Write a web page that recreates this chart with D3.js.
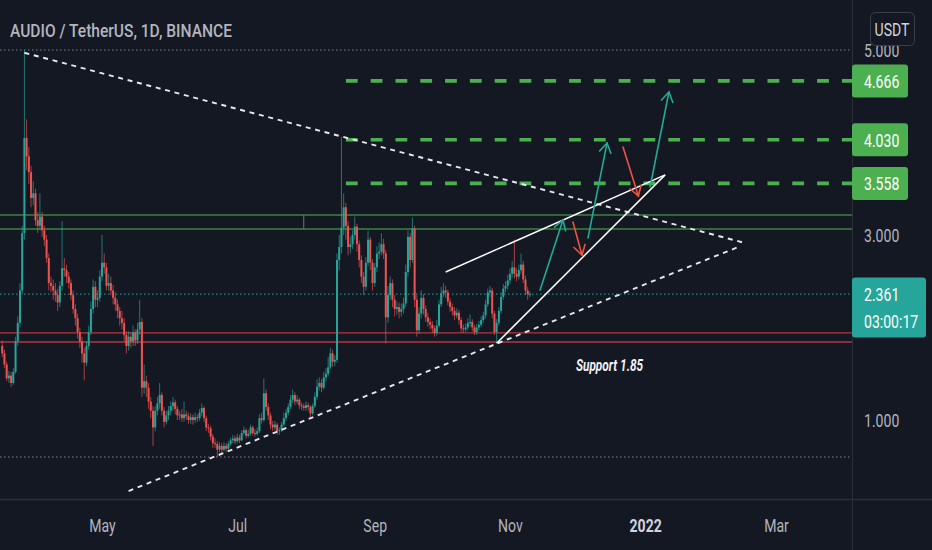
<!DOCTYPE html>
<html>
<head>
<meta charset="utf-8">
<script src="https://cdn.jsdelivr.net/npm/d3@7"></script>
<style>
  html, body { margin: 0; padding: 0; background: #141823; }
  svg { display: block; }
  text { font-family: Roboto, "Noto Sans", sans-serif; }
</style>
</head>
<body>
<div id="app"></div>
<script>
// Daily candles, AUDIO/USDT (open = previous close)
const firstDay = '2021-03-17';
const firstOpen = 1.80;
const closes = [
  1.72, 1.60, 1.45, 1.48, 1.40, 1.52, 1.85, 2.05, 2.40, 3.02,
  4.05, 3.85, 3.68, 3.40, 3.45, 3.16, 3.10, 3.20, 3.05, 2.95,
  2.75, 2.48, 2.45, 2.40, 2.35, 2.27, 2.45, 2.64, 2.62, 2.55,
  2.48, 2.35, 2.20, 2.10, 1.95, 1.85, 1.72, 1.62, 1.80, 1.95,
  2.20, 2.44, 2.30, 2.32, 2.55, 2.70, 2.65, 2.45, 2.48, 2.40,
  2.32, 2.25, 2.18, 2.10, 2.05, 1.92, 1.80, 1.90, 1.85, 1.95,
  1.86, 1.98, 2.06, 1.35, 1.42, 1.35, 1.20, 1.10, 0.92, 1.10,
  1.18, 1.27, 1.10, 0.98, 1.05, 1.10, 1.15, 1.19, 1.12, 1.05,
  1.06, 1.02, 1.06, 1.04, 1.00, 1.03, 1.00, 1.03, 1.02, 1.08,
  1.13, 1.02, 0.92, 0.91, 0.82, 0.75, 0.74, 0.68, 0.72, 0.68,
  0.72, 0.69, 0.74, 0.78, 0.80, 0.77, 0.81, 0.78, 0.86, 0.89,
  0.83, 0.85, 0.92, 0.86, 0.85, 0.88, 1.02, 1.00, 1.29, 1.14,
  1.05, 0.95, 0.92, 0.95, 0.88, 0.89, 0.95, 1.02, 1.08, 1.14,
  1.22, 1.27, 1.20, 1.22, 1.16, 1.15, 1.13, 1.16, 1.14, 1.07,
  1.15, 1.25, 1.36, 1.40, 1.35, 1.46, 1.50, 1.57, 1.72, 1.63,
  1.65, 2.73, 2.87, 3.08, 3.30, 3.10, 2.87, 2.90, 3.00, 3.09,
  2.90, 2.73, 2.55, 2.44, 2.70, 2.95, 2.70, 2.48, 2.65, 2.80,
  2.82, 2.90, 2.80, 2.11, 2.35, 2.48, 2.30, 2.20, 2.22, 2.17,
  2.20, 2.26, 2.60, 2.98, 2.73, 3.07, 2.30, 1.97, 2.15, 2.32,
  2.20, 2.11, 2.06, 2.03, 1.99, 1.94, 2.02, 2.25, 2.37, 2.40,
  2.38, 2.28, 2.22, 2.18, 2.13, 2.16, 2.08, 1.99, 1.98, 2.00,
  2.05, 2.06, 2.00, 1.95, 2.00, 2.03, 2.08, 2.13, 2.25, 2.38,
  2.40, 2.15, 1.95, 2.05, 2.18, 2.33, 2.42, 2.45, 2.51, 2.58,
  2.65, 2.58, 2.55, 2.62, 2.68, 2.52, 2.40, 2.36, 2.361
];
const highs = [
  1.86, 1.76, 1.63, 1.53, 1.52, 1.56, 1.90, 2.12, 2.48, 3.10,
  5.00, 4.25, 3.95, 3.75, 3.58, 3.50, 3.25, 3.45, 3.25, 3.10,
  3.00, 2.80, 2.55, 2.52, 2.48, 2.42, 2.50, 3.15, 2.75, 2.68,
  2.60, 2.52, 2.40, 2.25, 2.15, 2.00, 1.90, 1.78, 1.85, 2.02,
  2.28, 2.52, 2.50, 2.40, 2.62, 3.00, 2.80, 2.70, 2.58, 2.55,
  2.46, 2.38, 2.30, 2.22, 2.18, 2.10, 1.96, 1.96, 1.95, 2.02,
  1.98, 2.05, 2.30, 2.10, 1.60, 1.48, 1.40, 1.25, 1.15, 1.15,
  1.25, 1.40, 1.30, 1.14, 1.10, 1.15, 1.20, 1.25, 1.22, 1.15,
  1.10, 1.12, 1.20, 1.10, 1.08, 1.07, 1.06, 1.08, 1.06, 1.12,
  1.18, 1.15, 1.05, 0.96, 0.94, 0.85, 0.80, 0.77, 0.76, 0.75,
  0.76, 0.75, 0.77, 0.81, 0.84, 0.83, 0.85, 0.84, 0.89, 0.93,
  0.91, 0.89, 0.95, 0.94, 0.90, 0.92, 1.06, 1.08, 1.45, 1.33,
  1.18, 1.08, 0.99, 0.99, 0.97, 0.92, 0.98, 1.08, 1.12, 1.18,
  1.27, 1.33, 1.30, 1.27, 1.24, 1.19, 1.18, 1.20, 1.19, 1.16,
  1.18, 1.30, 1.44, 1.46, 1.44, 1.52, 1.56, 1.68, 1.78, 1.76,
  1.70, 2.80, 3.00, 4.06, 3.45, 3.35, 3.15, 2.98, 3.05, 3.20,
  3.12, 2.94, 2.78, 2.60, 2.76, 3.05, 2.98, 2.74, 2.70, 2.88,
  2.92, 3.02, 2.96, 2.84, 2.45, 2.55, 2.52, 2.35, 2.28, 2.27,
  2.26, 2.32, 2.68, 3.05, 3.02, 3.19, 3.10, 2.35, 2.22, 2.40,
  2.36, 2.24, 2.16, 2.10, 2.07, 2.02, 2.08, 2.30, 2.44, 2.48,
  2.45, 2.41, 2.32, 2.26, 2.22, 2.21, 2.19, 2.11, 2.03, 2.04,
  2.10, 2.14, 2.09, 2.03, 2.04, 2.07, 2.12, 2.17, 2.30, 2.42,
  2.45, 2.43, 2.18, 2.09, 2.22, 2.38, 2.47, 2.50, 2.57, 2.64,
  2.72, 2.95, 2.64, 2.68, 2.80, 2.72, 2.56, 2.44, 2.39
];
const lows = [
  1.68, 1.56, 1.42, 1.40, 1.36, 1.38, 1.50, 1.80, 2.00, 2.36,
  2.95, 3.70, 3.55, 3.30, 3.32, 3.10, 3.02, 3.05, 2.98, 2.88,
  2.70, 2.40, 2.38, 2.30, 2.28, 2.18, 2.22, 2.40, 2.55, 2.48,
  2.42, 2.30, 2.15, 2.02, 1.88, 1.78, 1.62, 1.43, 1.58, 1.76,
  1.92, 2.15, 2.22, 2.22, 2.28, 2.50, 2.58, 2.40, 2.40, 2.35,
  2.25, 2.18, 2.10, 2.02, 1.98, 1.85, 1.72, 1.75, 1.78, 1.80,
  1.80, 1.82, 1.92, 1.25, 1.28, 1.25, 1.12, 1.02, 0.72, 0.88,
  1.05, 1.12, 1.05, 0.92, 0.95, 1.00, 1.05, 1.10, 1.06, 1.00,
  1.00, 0.98, 0.98, 1.00, 0.96, 0.96, 0.95, 0.97, 0.98, 0.99,
  1.04, 0.98, 0.88, 0.86, 0.78, 0.70, 0.70, 0.60, 0.65, 0.62,
  0.66, 0.65, 0.67, 0.72, 0.75, 0.74, 0.75, 0.75, 0.77, 0.84,
  0.80, 0.81, 0.83, 0.83, 0.82, 0.83, 0.86, 0.96, 0.98, 1.10,
  1.00, 0.90, 0.88, 0.89, 0.84, 0.84, 0.87, 0.93, 0.99, 1.05,
  1.12, 1.18, 1.16, 1.17, 1.12, 1.11, 1.10, 1.10, 1.10, 1.03,
  1.05, 1.13, 1.22, 1.32, 1.30, 1.33, 1.42, 1.47, 1.55, 1.58,
  1.58, 1.62, 2.62, 2.80, 3.00, 2.95, 2.78, 2.80, 2.85, 2.95,
  2.82, 2.65, 2.48, 2.35, 2.40, 2.66, 2.62, 2.40, 2.44, 2.60,
  2.74, 2.78, 2.74, 1.83, 2.05, 2.30, 2.22, 2.12, 2.14, 2.10,
  2.12, 2.15, 2.22, 2.55, 2.65, 2.70, 2.22, 1.90, 1.93, 2.10,
  2.14, 2.06, 2.01, 1.98, 1.94, 1.90, 1.91, 2.00, 2.22, 2.33,
  2.32, 2.24, 2.17, 2.13, 2.08, 2.10, 2.03, 1.95, 1.94, 1.95,
  1.97, 2.01, 1.96, 1.92, 1.92, 1.97, 2.00, 2.05, 2.10, 2.22,
  2.33, 2.10, 1.92, 1.83, 2.02, 2.15, 2.30, 2.38, 2.41, 2.47,
  2.54, 2.53, 2.50, 2.52, 2.58, 2.48, 2.35, 2.30, 2.33
];

// Price axis and time axis
const priceTicks = [1, 3, 5];
const timeTicks = ['2021-05-01', '2021-07-01', '2021-09-01', '2021-11-01', '2022-01-01', '2022-03-01'];
const timeLabels = ['May', 'Jul', 'Sep', 'Nov', '2022', 'Mar'];

// Drawings on the chart
const targetLevels = [4.666, 4.030, 3.558];
const targetStart = '2021-08-19';
const greenZone = [3.216, 3.065];
const greenZoneEdge = '2021-07-31';
const redZone = [1.941, 1.843];
const lastPrice = 2.361;
const countdown = '03:00:17';
const highMark = 5.0;
const lowMark = 0.60;
const triangleLines = [
  [['2021-03-27', 4.97], ['2022-02-14', 2.92]],
  [['2021-05-13', 0.232], ['2022-02-13', 2.88]]
];
const wedgeLines = [
  [['2021-10-03', 2.60], ['2022-01-10', 3.65]],
  [['2021-10-26', 1.83], ['2022-01-10', 3.65]]
];
const arrows = [
  [['2021-11-14T14:00Z', 2.405], ['2021-11-24T22:00Z', 3.162], 'up'],
  [['2021-11-29T10:00Z', 3.14], ['2021-12-03T12:00Z', 2.784], 'down'],
  [['2021-12-06T05:00Z', 2.968], ['2021-12-14T19:00Z', 3.995], 'up'],
  [['2021-12-22T00:00Z', 3.951], ['2021-12-28T22:00Z', 3.422], 'down'],
  [['2022-01-03T05:00Z', 3.519], ['2022-01-11T17:00Z', 4.546], 'up']
];
const noteText = 'Support 1.85';
const notePos = ['2021-11-30T18:00Z', 1.53];

const W = 932, H = 550;
const plotRight = 852, plotBottom = 499;
const teal = '#26a69a', red = '#ef5350', green = '#4caf50';
const axisGrey = '#b2b5be';
const squeeze = 'scale(0.74,1)';

const toDate = s => new Date(s);
const x = d3.scaleUtc()
  .domain([toDate('2021-05-01'), toDate('2022-03-01')])
  .range([102, 776]);
const y = d3.scaleLinear().domain([1, 5]).range([420, 50]);

const svg = d3.select('#app').append('svg')
  .attr('width', W).attr('height', H);
svg.append('rect').attr('width', W).attr('height', H).attr('fill', '#141823');

svg.append('clipPath').attr('id', 'plot-clip')
  .append('rect').attr('width', plotRight).attr('height', plotBottom);
const plot = svg.append('g').attr('clip-path', 'url(#plot-clip)');

// Horizontal zones and marker lines
const hLine = (price, color, width, dash, opacity) => {
  plot.append('line')
    .attr('x1', 0).attr('x2', plotRight)
    .attr('y1', y(price)).attr('y2', y(price))
    .attr('stroke', color).attr('stroke-width', width)
    .attr('stroke-dasharray', dash).attr('opacity', opacity);
};
greenZone.forEach(p => hLine(p, '#3f8f43', 1.3, null, 0.9));
redZone.forEach(p => hLine(p, '#c8393f', 1.3, null, 0.9));
hLine(highMark, '#8a8d96', 1, '1.5,2.5', 0.9);
hLine(lowMark, '#8a8d96', 1, '1.5,2.5', 0.9);
hLine(lastPrice, teal, 1, '1.5,2.5', 1);

// small edge of the green box drawing
plot.append('line')
  .attr('x1', x(toDate(greenZoneEdge))).attr('x2', x(toDate(greenZoneEdge)))
  .attr('y1', y(greenZone[0])).attr('y2', y(greenZone[1]))
  .attr('stroke', '#5b7f6a').attr('stroke-width', 1);

// Candles
const day0 = toDate(firstDay);
const candles = closes.map((c, i) => ({
  date: d3.utcDay.offset(day0, i),
  open: i === 0 ? firstOpen : closes[i - 1],
  close: c, high: highs[i], low: lows[i]
}));
const candleG = plot.append('g');
const bar = candleG.selectAll('g').data(candles).join('g')
  .attr('transform', d => `translate(${x(d.date)},0)`);
bar.append('line')
  .attr('y1', d => y(d.high)).attr('y2', d => y(d.low))
  .attr('stroke', d => d.close >= d.open ? teal : red)
  .attr('stroke-width', 0.8).attr('opacity', 0.85);
bar.append('rect')
  .attr('x', -1).attr('width', 2.0)
  .attr('y', d => y(Math.max(d.open, d.close)))
  .attr('height', d => Math.max(1, Math.abs(y(d.open) - y(d.close))))
  .attr('fill', d => d.close >= d.open ? teal : red);

// Target levels (thick dashed green)
targetLevels.forEach(p => {
  plot.append('line')
    .attr('x1', x(toDate(targetStart))).attr('x2', plotRight)
    .attr('y1', y(p)).attr('y2', y(p))
    .attr('stroke', green).attr('stroke-width', 3.6)
    .attr('stroke-dasharray', '11.8,13');
});

// Triangle and wedge lines
const segment = ([a, b], color, width, dash) => {
  plot.append('line')
    .attr('x1', x(toDate(a[0]))).attr('y1', y(a[1]))
    .attr('x2', x(toDate(b[0]))).attr('y2', y(b[1]))
    .attr('stroke', color).attr('stroke-width', width)
    .attr('stroke-dasharray', dash);
};
triangleLines.forEach(l => segment(l, '#e6e8ee', 1.9, '5,4.7'));
wedgeLines.forEach(l => segment(l, '#ffffff', 1.5, null));

// Arrows with open heads
arrows.forEach(([a, b, dir]) => {
  const color = dir === 'up' ? '#22ab94' : '#f0533f';
  const x1 = x(toDate(a[0])), y1 = y(a[1]);
  const x2 = x(toDate(b[0])), y2 = y(b[1]);
  const ang = Math.atan2(y2 - y1, x2 - x1);
  const headLen = 11, spread = 0.55;
  const g = plot.append('g').attr('stroke', color).attr('stroke-width', 1.6)
    .attr('fill', 'none').attr('stroke-linecap', 'round');
  g.append('line').attr('x1', x1).attr('y1', y1).attr('x2', x2).attr('y2', y2);
  g.append('path').attr('d', d3.line()([
    [x2 - headLen * Math.cos(ang - spread), y2 - headLen * Math.sin(ang - spread)],
    [x2, y2],
    [x2 - headLen * Math.cos(ang + spread), y2 - headLen * Math.sin(ang + spread)]
  ]));
});

// Text note
plot.append('text')
  .attr('transform', `translate(${x(toDate(notePos[0]))},${y(notePos[1])}) ${squeeze}`)
  .attr('fill', '#f0f3fa').attr('font-size', 16)
  .attr('font-weight', 'bold').attr('font-style', 'italic')
  .text(noteText);

// Title
svg.append('text')
  .attr('x', 10).attr('y', 37)
  .attr('fill', axisGrey).attr('font-size', 19).attr('font-weight', 500)
  .attr('textLength', 222).attr('lengthAdjust', 'spacingAndGlyphs')
  .text('AUDIO / TetherUS, 1D, BINANCE');

// Axis frame lines
svg.append('line')
  .attr('x1', plotRight + 0.5).attr('x2', plotRight + 0.5)
  .attr('y1', 0).attr('y2', H)
  .attr('stroke', '#2a2e39').attr('stroke-width', 1);
svg.append('line')
  .attr('x1', 0).attr('x2', W)
  .attr('y1', plotBottom + 0.5).attr('y2', plotBottom + 0.5)
  .attr('stroke', '#2a2e39').attr('stroke-width', 1.5);

// Right price axis
const yAxis = svg.append('g')
  .attr('transform', `translate(864,0)`)
  .call(d3.axisRight(y).tickValues(priceTicks).tickFormat(d3.format('.3f')).tickSize(0).tickPadding(0));
yAxis.select('.domain').remove();
yAxis.selectAll('text')
  .attr('fill', axisGrey).attr('font-size', 19)
  .attr('font-family', 'Roboto, sans-serif')
  .attr('transform', squeeze);

// Bottom time axis
const xAxis = svg.append('g')
  .attr('transform', `translate(0,519)`)
  .call(d3.axisBottom(x).tickValues(timeTicks.map(toDate))
    .tickFormat((d, i) => timeLabels[i]).tickSize(0).tickPadding(0));
xAxis.select('.domain').remove();
xAxis.selectAll('text')
  .attr('fill', (d, i) => timeLabels[i] === '2022' ? '#d1d4dc' : axisGrey)
  .attr('font-weight', (d, i) => timeLabels[i] === '2022' ? 'bold' : 'normal')
  .attr('font-size', 19)
  .attr('font-family', 'Roboto, sans-serif')
  .attr('transform', squeeze);

// Price labels on the axis
const priceLabel = (price, color, lines, boxW, boxH) => {
  const cy = y(price);
  const g = svg.append('g');
  g.append('rect')
    .attr('x', plotRight).attr('y', cy - 16.5)
    .attr('width', boxW).attr('height', boxH).attr('rx', 3)
    .attr('fill', color);
  lines.forEach((t, k) => {
    g.append('text')
      .attr('transform', `translate(864,${cy + 7 + k * 27}) ${squeeze}`)
      .attr('fill', '#ffffff').attr('font-size', 19)
      .text(t);
  });
};
targetLevels.forEach(p => priceLabel(p, green, [d3.format('.3f')(p)], 56, 33));
priceLabel(lastPrice, teal, [d3.format('.3f')(lastPrice), countdown], 74, 60);

// Currency button
svg.append('rect')
  .attr('x', 870.5).attr('y', 12.5).attr('width', 44).attr('height', 33).attr('rx', 5)
  .attr('fill', '#141823').attr('stroke', '#3a3e4a');
svg.append('text')
  .attr('transform', `translate(892,36) ${squeeze}`)
  .attr('text-anchor', 'middle')
  .attr('fill', '#d1d4dc').attr('font-size', 19)
  .text('USDT');
</script>
</body>
</html>
